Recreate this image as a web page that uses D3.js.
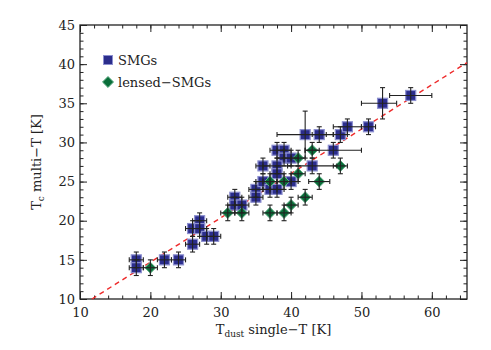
<!DOCTYPE html>
<meta charset="utf-8">
<script src="https://d3js.org/d3.v7.min.js"></script>
<style>
  body { margin: 0; background: #fff; }
  text { font-family: "DejaVu Serif", serif; fill: #222; }
</style>
<div id="dataVis"></div>
<script>
// SMGs: x, y, x error (lo/hi), y error (lo/hi)
var smgX    = [18, 18, 22, 24, 26, 26, 27, 27, 28, 29, 32, 32, 33, 35, 35, 36, 36, 37, 38, 38, 39, 39, 40, 38, 38, 40, 43, 42, 44, 47, 48, 51, 46, 53, 57];
var smgY    = [15, 14, 15, 15, 17, 19, 20, 19, 18, 18, 23, 22, 22, 24, 23, 27, 25, 24, 24, 29, 29, 28, 28, 27, 26, 25, 27, 31, 31, 31, 32, 32, 29, 35, 36];
var smgXLo  = [1, 1, 1, 1, 1, 1, 1, 1, 1, 1, 1, 1, 1, 1, 1, 1, 1, 1, 1, 1, 1, 1, 1, 2, 1, 1, 3.5, 4, 1, 1, 2, 1, 4, 3, 3];
var smgXHi  = [1, 1, 1, 1, 1, 1, 1, 1, 1, 1, 1, 1, 1, 1, 1, 1, 1, 1, 1, 1, 1, 1, 1, 2, 1, 1, 3.5, 4, 1, 1, 2, 1, 4, 2, 3];
var smgYLo  = [1, 1, 1, 1, 1, 1, 1, 1, 1, 1, 1, 1, 1, 1, 1, 1, 1, 1, 1, 1, 1, 1, 1, 1, 1, 1, 1, 3, 1, 1, 1, 1, 1, 2, 1];
var smgYHi  = [1, 1, 1, 1, 1, 1, 1, 1, 1, 1, 1, 1, 1, 1, 1, 1, 1, 1, 1, 1, 1, 1, 1, 1, 1, 1, 1, 3, 1, 1, 1, 1, 1, 2, 1];

// lensed SMGs
var lensX   = [20, 31, 33, 37, 37, 39, 39, 40, 41, 41, 42, 43, 44, 47];
var lensY   = [14, 21, 21, 25, 21, 25, 21, 22, 28, 26, 23, 29, 25, 27];
var lensXE  = [1, 1, 1, 1, 1, 1, 1, 1, 1, 1, 1, 1, 1.5, 1];
var lensYE  = [1, 1, 1, 1, 1, 1, 1, 1, 1, 1, 1, 1, 1, 1];

// dashed fit line end points
var fitX = [11.7, 65];
var fitY = [10, 40.2];

var xTicks = [10, 20, 30, 40, 50, 60];
var yTicks = [10, 15, 20, 25, 30, 35, 40, 45];
var xMinor = d3.range(10, 65.1, 2);
var yMinor = d3.range(10, 45.1, 1);

var W = 491, H = 350;
var margin = {left: 80, top: 25, right: 24, bottom: 51};
var w = W - margin.left - margin.right,
    h = H - margin.top - margin.bottom;

var x = d3.scaleLinear().domain([10, 65]).range([0, w]);
var y = d3.scaleLinear().domain([10, 45]).range([h, 0]);

var svg = d3.select('#dataVis').append('svg')
    .attr('width', W).attr('height', H);
var chart = svg.append('g')
    .attr('transform', 'translate(' + margin.left + ',' + margin.top + ')');

// frame
chart.append('rect')
  .attr('width', w).attr('height', h)
  .attr('fill', 'none').attr('stroke', '#222').attr('stroke-width', 1.3);

// axes: major + minor ticks on all four sides, pointing inward
function styleAxis(g) {
  g.select('.domain').remove();
  g.selectAll('line').attr('stroke', '#222').attr('stroke-width', 1);
  g.selectAll('text').attr('font-size', 13).attr('font-family', '"DejaVu Serif", serif').attr('fill', '#222');
}
chart.append('g').attr('transform', 'translate(0,' + h + ')')
  .call(d3.axisBottom(x).tickValues(xTicks).tickSize(-7).tickPadding(9).tickFormat(d3.format('d')))
  .call(styleAxis);
chart.append('g').attr('transform', 'translate(0,' + h + ')')
  .call(d3.axisBottom(x).tickValues(xMinor).tickSize(-3.5).tickFormat(''))
  .call(styleAxis);
chart.append('g')
  .call(d3.axisTop(x).tickValues(xTicks).tickSize(-7).tickFormat(''))
  .call(styleAxis);
chart.append('g')
  .call(d3.axisTop(x).tickValues(xMinor).tickSize(-3.5).tickFormat(''))
  .call(styleAxis);
chart.append('g')
  .call(d3.axisLeft(y).tickValues(yTicks).tickSize(-7).tickPadding(5).tickFormat(d3.format('d')))
  .call(styleAxis);
chart.append('g')
  .call(d3.axisLeft(y).tickValues(yMinor).tickSize(-3.5).tickFormat(''))
  .call(styleAxis);
chart.append('g').attr('transform', 'translate(' + w + ',0)')
  .call(d3.axisRight(y).tickValues(yTicks).tickSize(-7).tickFormat(''))
  .call(styleAxis);
chart.append('g').attr('transform', 'translate(' + w + ',0)')
  .call(d3.axisRight(y).tickValues(yMinor).tickSize(-3.5).tickFormat(''))
  .call(styleAxis);

// fit line
chart.append('line')
  .attr('x1', x(fitX[0])).attr('y1', y(fitY[0]))
  .attr('x2', x(fitX[1])).attr('y2', y(fitY[1]))
  .attr('stroke', '#ee2a2a').attr('stroke-width', 1.4)
  .attr('stroke-dasharray', '5,4');

var smg = smgX.map((d, i) => ({x: d, y: smgY[i], xl: smgXLo[i], xh: smgXHi[i], yl: smgYLo[i], yh: smgYHi[i]}));
var lens = lensX.map((d, i) => ({x: d, y: lensY[i], xl: lensXE[i], xh: lensXE[i], yl: lensYE[i], yh: lensYE[i]}));

var blue = '#2b2d8c', green = '#0a6e3a';

// markers
chart.append('g').selectAll('rect')
  .data(smg).enter().append('rect')
    .attr('x', d => x(d.x) - 5).attr('y', d => y(d.y) - 5)
    .attr('width', 10).attr('height', 10)
    .attr('fill', blue).attr('stroke', '#8c8fd0').attr('stroke-width', 1.2);

var diamond = d3.symbol().type(d3.symbolDiamond2).size(78);
chart.append('g').selectAll('path')
  .data(lens).enter().append('path')
    .attr('d', diamond)
    .attr('transform', d => 'translate(' + x(d.x) + ',' + y(d.y) + ')')
    .attr('fill', green).attr('stroke', '#5fae85').attr('stroke-width', 1);

// error bars drawn on top of markers
function errorBars(data) {
  var g = chart.append('g').attr('stroke', '#222').attr('stroke-width', 1.1);
  data.forEach(d => {
    var cx = x(d.x), cy = y(d.y);
    var x0 = x(d.x - d.xl), x1 = x(d.x + d.xh);
    var y0 = y(d.y - d.yl), y1 = y(d.y + d.yh);
    g.append('line').attr('x1', x0).attr('x2', x1).attr('y1', cy).attr('y2', cy);
    g.append('line').attr('x1', x0).attr('x2', x0).attr('y1', cy - 2.5).attr('y2', cy + 2.5);
    g.append('line').attr('x1', x1).attr('x2', x1).attr('y1', cy - 2.5).attr('y2', cy + 2.5);
    g.append('line').attr('x1', cx).attr('x2', cx).attr('y1', y0).attr('y2', y1);
    g.append('line').attr('x1', cx - 2.5).attr('x2', cx + 2.5).attr('y1', y0).attr('y2', y0);
    g.append('line').attr('x1', cx - 2.5).attr('x2', cx + 2.5).attr('y1', y1).attr('y2', y1);
  });
}
errorBars(smg);
errorBars(lens);

// legend
var leg = svg.append('g').attr('transform', 'translate(108,60)');
leg.append('rect').attr('x', -4.5).attr('y', -4.5).attr('width', 9).attr('height', 9)
  .attr('fill', blue).attr('stroke', '#8c8fd0').attr('stroke-width', 1);
leg.append('text').attr('x', 10).attr('y', 5).attr('font-size', 13).text('SMGs');
leg.append('path').attr('d', diamond).attr('transform', 'translate(0,22)')
  .attr('fill', green).attr('stroke', '#5fae85').attr('stroke-width', 1);
leg.append('text').attr('x', 10).attr('y', 27).attr('font-size', 13).text('lensed\u2212SMGs');

// axis titles
var xt = svg.append('text')
  .attr('x', margin.left + w / 2).attr('y', 334)
  .attr('text-anchor', 'middle').attr('font-size', 13);
xt.append('tspan').text('T');
xt.append('tspan').attr('font-size', 9).attr('dy', 3).text('dust');
xt.append('tspan').attr('dy', -3).text(' single\u2212T [K]');

var yt = svg.append('text')
  .attr('transform', 'translate(41,' + (margin.top + h / 2) + ') rotate(-90)')
  .attr('text-anchor', 'middle').attr('font-size', 13);
yt.append('tspan').text('T');
yt.append('tspan').attr('font-size', 9).attr('dy', 3).text('c');
yt.append('tspan').attr('dy', -3).text(' multi\u2212T [K]');
</script>
